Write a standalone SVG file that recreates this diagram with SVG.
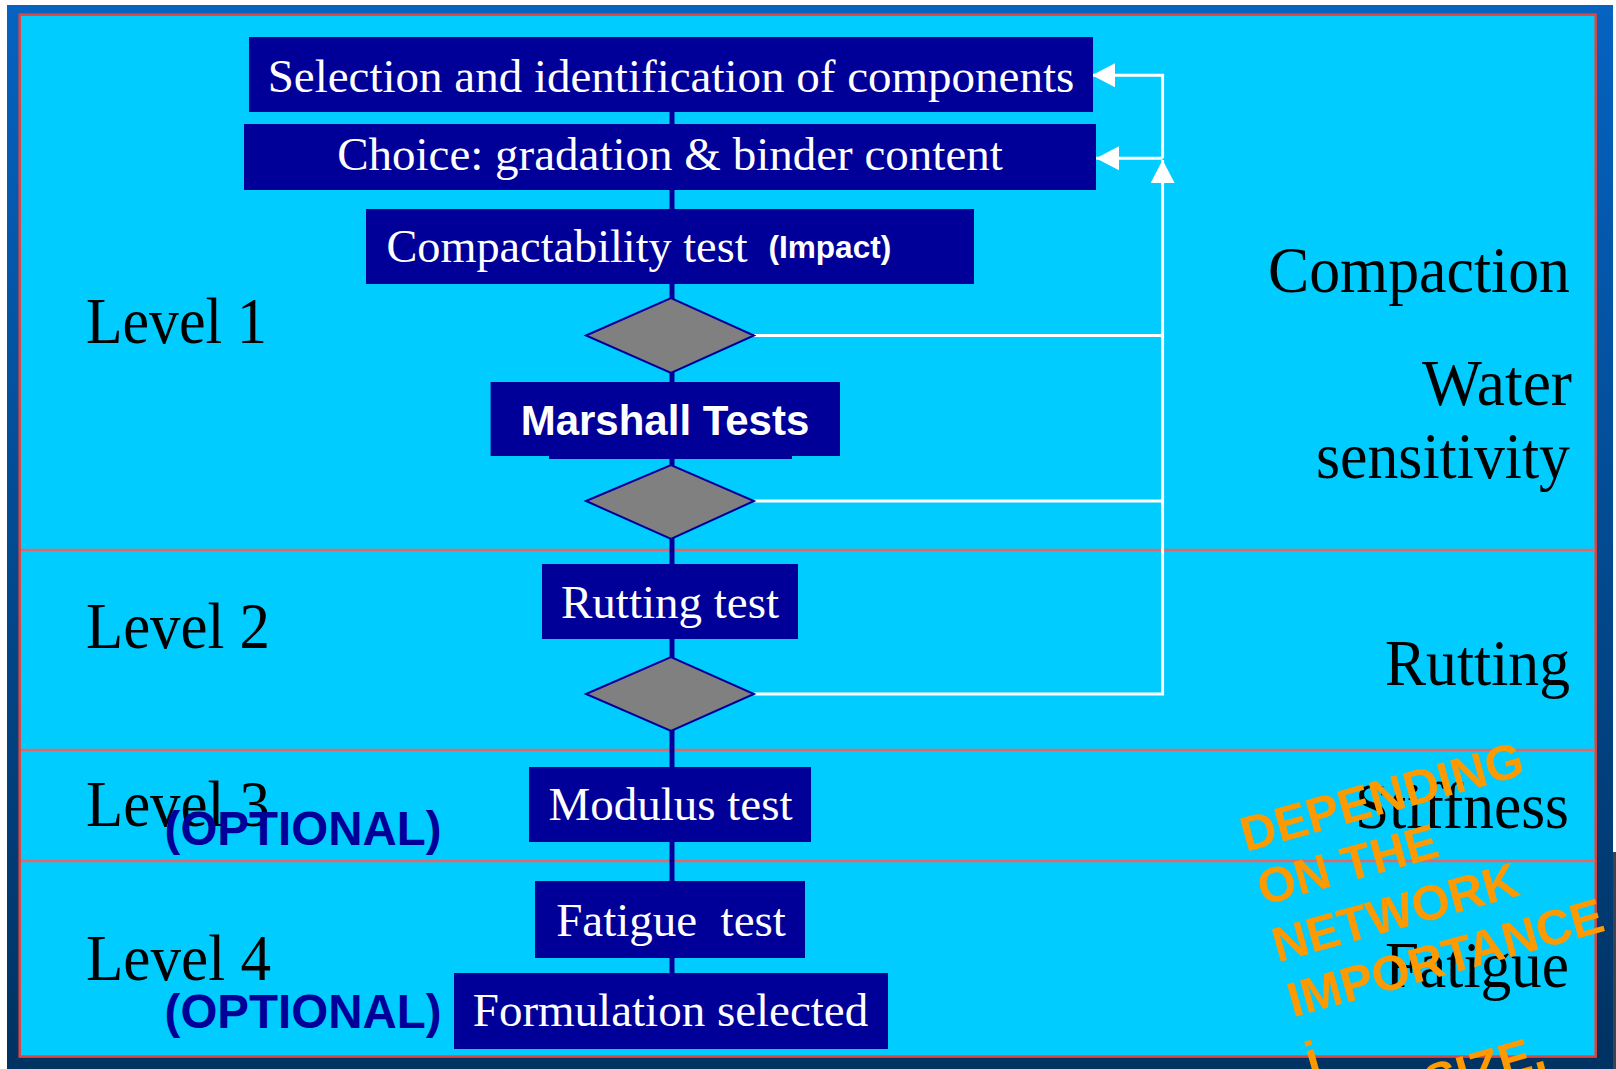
<svg xmlns="http://www.w3.org/2000/svg" width="1616" height="1069" viewBox="0 0 1616 1069">
<defs>
<linearGradient id="frameGrad" x1="0" y1="0" x2="0" y2="1">
<stop offset="0" stop-color="#0563C1"/>
<stop offset="1" stop-color="#003262"/>
</linearGradient>
<marker id="arrowW" viewBox="0 0 23 24" refX="23" refY="12" markerWidth="23" markerHeight="24" markerUnits="userSpaceOnUse" orient="auto">
<path d="M0,0 L23,12 L0,24 Z" fill="#FFFFFF"/>
</marker>
<style>
.box{fill:#000099;}
.bt{font-family:"Liberation Serif","Times New Roman",serif;font-size:47px;fill:#FFFFFF;text-anchor:middle;}
.lab{font-family:"Liberation Serif","Times New Roman",serif;font-size:65px;fill:#000000;}
.opt{font-family:"Liberation Sans",Arial,sans-serif;font-weight:bold;font-size:48px;fill:#000099;}
.orange{font-family:"Liberation Sans",Arial,sans-serif;font-weight:bold;font-size:49px;fill:#FF9900;}
.dia{fill:#808080;stroke:#000099;stroke-width:2;}
.div{stroke:#E06868;stroke-width:2.5;fill:none;}
.wl{stroke:#FFFFFF;stroke-width:3;fill:none;}
.vc{stroke:#000099;stroke-width:5;fill:none;}
</style>
</defs>
<rect x="0" y="0" width="1616" height="1069" fill="#FFFFFF"/>
<rect x="1613" y="852" width="3" height="217" fill="#3A4450"/>
<rect x="7" y="5" width="1606" height="1064" fill="url(#frameGrad)"/>
<rect x="19.7" y="14.6" width="1576" height="1042" fill="#00CCFF" stroke="#E0453C" stroke-width="2.5"/>
<g id="dividers">
<line class="div" x1="21" y1="550" x2="1595" y2="550"/>
<line class="div" x1="21" y1="750" x2="1595" y2="750"/>
<line class="div" x1="21" y1="861" x2="1595" y2="861"/>
</g>
<g id="connectors">
<line class="vc" x1="672" y1="112" x2="672" y2="973"/>
<path class="wl" d="M754,335.5 H1162.6"/>
<path class="wl" d="M754,501 H1162.6"/>
<path class="wl" d="M754,694 H1162.6 V160" marker-end="url(#arrowW)"/>
<path class="wl" d="M1162.6,158.3 V75.3 H1092" marker-end="url(#arrowW)"/>
<path class="wl" d="M1162.6,158.3 H1096" marker-end="url(#arrowW)"/>
</g>
<g id="n-selection">
<rect class="box" x="249" y="37" width="844" height="75"/>
<text class="bt" x="671" y="92">Selection and identification of components</text>
</g>
<g id="n-choice">
<rect class="box" x="244" y="124" width="852" height="66"/>
<text class="bt" x="670" y="170">Choice: gradation &amp; binder content</text>
</g>
<g id="n-compactability">
<rect class="box" x="366" y="209" width="608" height="75"/>
<text class="bt" x="386.5" y="261.7" style="text-anchor:start" textLength="361" lengthAdjust="spacingAndGlyphs">Compactability test</text>
<text x="768.4" y="258.3" font-family="Liberation Sans, Arial, sans-serif" font-weight="bold" font-size="31.6" fill="#FFFFFF">(Impact)</text>
</g>
<g id="d1"><polygon class="dia" points="586,335.5 671,298 754,335.5 671,373"/></g>
<g id="n-marshall">
<rect class="box" x="549" y="452" width="243" height="7"/>
<rect class="box" x="490.6" y="382" width="349.4" height="74"/>
<text x="665" y="435" font-family="Liberation Sans, Arial, sans-serif" font-weight="bold" font-size="42" fill="#FFFFFF" text-anchor="middle">Marshall Tests</text>
</g>
<g id="d2"><polygon class="dia" points="586,501 671,465 754,501 671,539"/></g>
<g id="n-rutting">
<rect class="box" x="542" y="564" width="256" height="75"/>
<text class="bt" x="670" y="617.5">Rutting test</text>
</g>
<g id="d3"><polygon class="dia" points="586,694 671,657 754,694 671,731"/></g>
<g id="n-modulus">
<rect class="box" x="529" y="767" width="282" height="75"/>
<text class="bt" x="670.5" y="820">Modulus test</text>
</g>
<g id="n-fatigue">
<rect class="box" x="535" y="881" width="270" height="77"/>
<text class="bt" x="671" y="936" xml:space="preserve">Fatigue  test</text>
</g>
<g id="n-formulation">
<rect class="box" x="454" y="973" width="434" height="76"/>
<text class="bt" x="670.5" y="1026">Formulation selected</text>
</g>
<g id="levels">
<text class="lab" x="86" y="343" textLength="181" lengthAdjust="spacingAndGlyphs">Level 1</text>
<text class="lab" x="86" y="648" textLength="184" lengthAdjust="spacingAndGlyphs">Level 2</text>
<text class="lab" x="86" y="826" textLength="184" lengthAdjust="spacingAndGlyphs">Level 3</text>
<text class="lab" x="86" y="980" textLength="185" lengthAdjust="spacingAndGlyphs">Level 4</text>
<text class="opt" x="164.6" y="845" textLength="277" lengthAdjust="spacingAndGlyphs">(OPTIONAL)</text>
<text class="opt" x="164.6" y="1028" textLength="277" lengthAdjust="spacingAndGlyphs">(OPTIONAL)</text>
</g>
<g id="criteria">
<text class="lab" x="1268" y="291.7" textLength="302" lengthAdjust="spacingAndGlyphs">Compaction</text>
<text class="lab" x="1422" y="405" textLength="150" lengthAdjust="spacingAndGlyphs">Water</text>
<text class="lab" x="1316" y="478" textLength="254" lengthAdjust="spacingAndGlyphs">sensitivity</text>
<text class="lab" x="1385" y="685" textLength="185" lengthAdjust="spacingAndGlyphs">Rutting</text>
<text class="lab" x="1355" y="828" textLength="214" lengthAdjust="spacingAndGlyphs">Stiffness</text>
<text class="lab" x="1385" y="987" textLength="184" lengthAdjust="spacingAndGlyphs">Fatigue</text>
</g>
<g id="note" transform="translate(1246,852) rotate(-15.5)">
<text class="orange" x="0" y="0">DEPENDING</text>
<text class="orange" x="2" y="56">ON THE</text>
<text class="orange" x="1" y="115">NETWORK</text>
<text class="orange" x="1" y="172">IMPORTANCE</text>
<text class="orange" x="2" y="234">i</text>
<text class="orange" x="111" y="288">SIZE,</text>
</g>
</svg>
